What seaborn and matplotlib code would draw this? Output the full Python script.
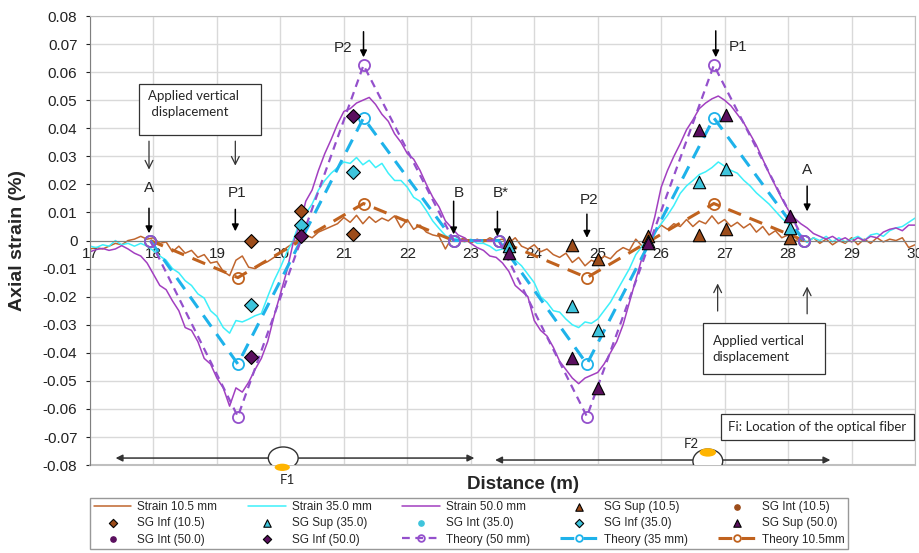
import numpy as np
import pandas as pd
import seaborn as sns
import matplotlib.pyplot as plt
from matplotlib.patches import Rectangle, Ellipse
from matplotlib.ticker import FuncFormatter, MultipleLocator

# distance grid of the fibre readings (m)
distance = np.linspace(17, 30, 131)

# measured axial strain (%) along the fibre, read every 0.1 m
strain_105 = [
    -0.0030, -0.0025, -0.0030, -0.0020, -0.0010, -0.0015, 0.0000, 0.0005, 0.0015, 0.0005,
    0.0010, -0.0010, -0.0005, -0.0040, -0.0020, -0.0045, -0.0035, -0.0060, -0.0050, -0.0080,
    -0.0075, -0.0110, -0.0125, -0.0070, -0.0055, -0.0095, -0.0100, -0.0085, -0.0075, -0.0060,
    -0.0045, -0.0025, -0.0010, 0.0010, 0.0020, 0.0010, 0.0030, 0.0040, 0.0050, 0.0060,
    0.0082, 0.0065, 0.0090, 0.0060, 0.0085, 0.0065, 0.0080, 0.0070, 0.0088, 0.0046,
    0.0075, 0.0040, 0.0055, 0.0030, 0.0020, 0.0015, -0.0030, 0.0010, 0.0000, 0.0010,
    -0.0010, 0.0005, -0.0005, 0.0010, 0.0000, 0.0005, -0.0010, 0.0010, -0.0020, -0.0030,
    -0.0015, -0.0040, -0.0030, -0.0050, -0.0060, -0.0045, -0.0078, -0.0060, -0.0090, -0.0070,
    -0.0080, -0.0055, -0.0065, -0.0040, -0.0025, -0.0035, 0.0005, -0.0020, 0.0000, 0.0030,
    0.0055, 0.0040, 0.0060, 0.0050, 0.0075, 0.0050, 0.0070, 0.0060, 0.0088, 0.0060,
    0.0075, 0.0050, 0.0065, 0.0045, 0.0060, 0.0030, 0.0050, 0.0020, 0.0035, 0.0010,
    0.0020, 0.0000, 0.0005, -0.0005, 0.0010, -0.0010, 0.0005, -0.0015, 0.0000, -0.0010,
    0.0010, -0.0015, 0.0005, -0.0010, 0.0010, -0.0005, 0.0005, 0.0000, 0.0010, -0.0025,
    -0.0015,
]
strain_350 = [
    -0.0020, -0.0025, -0.0015, -0.0020, 0.0000, -0.0015, -0.0010, -0.0020, -0.0010, -0.0020,
    -0.0036, -0.0055, -0.0070, -0.0100, -0.0115, -0.0143, -0.0160, -0.0190, -0.0205, -0.0250,
    -0.0270, -0.0310, -0.0330, -0.0285, -0.0290, -0.0280, -0.0268, -0.0260, -0.0200, -0.0143,
    -0.0096, -0.0043, 0.0000, 0.0064, 0.0096, 0.0130, 0.0180, 0.0214, 0.0240, 0.0260,
    0.0280, 0.0275, 0.0296, 0.0270, 0.0286, 0.0260, 0.0275, 0.0240, 0.0214, 0.0214,
    0.0190, 0.0154, 0.0140, 0.0107, 0.0070, 0.0043, 0.0018, 0.0005, 0.0010, -0.0005,
    0.0005, -0.0010, -0.0010, -0.0020, -0.0036, -0.0030, -0.0025, -0.0070, -0.0090, -0.0120,
    -0.0150, -0.0200, -0.0220, -0.0250, -0.0255, -0.0280, -0.0300, -0.0310, -0.0290, -0.0295,
    -0.0280, -0.0250, -0.0220, -0.0180, -0.0140, -0.0100, -0.0050, -0.0020, 0.0005, 0.0030,
    0.0060, 0.0090, 0.0125, 0.0168, 0.0195, 0.0214, 0.0235, 0.0245, 0.0260, 0.0280,
    0.0265, 0.0250, 0.0240, 0.0215, 0.0195, 0.0170, 0.0150, 0.0130, 0.0105, 0.0080,
    0.0060, 0.0035, 0.0015, -0.0007, 0.0010, 0.0000, 0.0015, -0.0005, 0.0010, -0.0005,
    0.0005, 0.0015, 0.0000, 0.0020, 0.0025, 0.0015, 0.0035, 0.0045, 0.0050, 0.0065,
    0.0080,
]
strain_500 = [
    -0.0040, -0.0032, -0.0028, -0.0035, -0.0030, -0.0018, -0.0030, -0.0045, -0.0055, -0.0080,
    -0.0120, -0.0160, -0.0175, -0.0215, -0.0250, -0.0310, -0.0320, -0.0360, -0.0420, -0.0440,
    -0.0490, -0.0525, -0.0590, -0.0525, -0.0540, -0.0505, -0.0460, -0.0420, -0.0360, -0.0270,
    -0.0190, -0.0110, -0.0010, 0.0050, 0.0140, 0.0180, 0.0250, 0.0310, 0.0360, 0.0415,
    0.0460, 0.0470, 0.0490, 0.0500, 0.0510, 0.0485, 0.0450, 0.0425, 0.0380, 0.0350,
    0.0310, 0.0290, 0.0250, 0.0200, 0.0155, 0.0120, 0.0070, 0.0045, 0.0020, 0.0010,
    -0.0010, -0.0025, -0.0035, -0.0055, -0.0060, -0.0080, -0.0110, -0.0160, -0.0180, -0.0200,
    -0.0285, -0.0320, -0.0340, -0.0380, -0.0430, -0.0460, -0.0490, -0.0510, -0.0490, -0.0480,
    -0.0470, -0.0440, -0.0400, -0.0360, -0.0300, -0.0220, -0.0140, -0.0060, 0.0000, 0.0085,
    0.0190, 0.0250, 0.0300, 0.0345, 0.0395, 0.0430, 0.0470, 0.0490, 0.0505, 0.0515,
    0.0500, 0.0480, 0.0450, 0.0420, 0.0380, 0.0340, 0.0290, 0.0240, 0.0195, 0.0150,
    0.0110, 0.0080, 0.0060, 0.0045, 0.0025, 0.0015, 0.0005, 0.0015, 0.0000, 0.0010,
    -0.0005, 0.0010, 0.0000, 0.0015, 0.0010, 0.0030, 0.0040, 0.0045, 0.0035, 0.0055,
    0.0055,
]

# theoretical strain at the key points A, P1, P2, B, B*, P2, P1, A
theory_x = [17.95, 19.33, 21.31, 22.73, 23.44, 24.83, 26.83, 28.25]
theory_50 = [0, -0.0627, 0.0625, 0, 0, -0.0627, 0.0625, 0]
theory_35 = [0, -0.044, 0.0437, 0, 0, -0.044, 0.0437, 0]
theory_105 = [0, -0.0132, 0.0132, 0, 0, -0.0132, 0.0132, 0]

# strain gauges
sg_inf_x = [19.53, 20.33, 21.14]
sg_inf_105 = [0.0, 0.0104, 0.0025]
sg_inf_35 = [-0.0229, 0.0054, 0.0245]
sg_inf_50 = [-0.0414, 0.0018, 0.0443]

sg_sup_x = [23.61, 24.60, 25.00, 25.80, 26.60, 27.02, 28.03]
sg_sup_105 = [-0.0005, -0.0015, -0.0065, 0.0018, 0.0021, 0.0040, 0.0008]
sg_sup_35 = [-0.0020, -0.0232, -0.0318, 0.0000, 0.0208, 0.0256, 0.0044]
sg_sup_50 = [-0.0043, -0.0418, -0.0525, -0.0010, 0.0395, 0.0449, 0.0086]

sg_int_x = []
sg_int_105 = []
sg_int_35 = []
sg_int_50 = []

c_br, c_cy, c_pu = '#C0662E', '#3DF0FA', '#A23FC0'
c_th_br, c_th_cy, c_th_pu = '#C0621E', '#1EB2EA', '#9450CC'
c_sg_br, c_sg_cy, c_sg_pu = '#9C4C1A', '#3EC4DC', '#5A0F5E'

sns.set_style("white")
plt.rcParams['font.family'] = ['Liberation Sans', 'DejaVu Sans']
plt.rcParams['axes.unicode_minus'] = False

fig = plt.figure(figsize=(9.2, 5.53), dpi=100)
ax = fig.add_axes([0.0978, 0.159, 0.8968, 0.812])

df = pd.DataFrame({'distance': distance, 's105': strain_105, 's350': strain_350, 's500': strain_500})
sns.lineplot(data=df, x='distance', y='s105', color=c_br, lw=1.1, label='Strain 10.5 mm', ax=ax)
sns.lineplot(data=df, x='distance', y='s350', color=c_cy, lw=1.1, label='Strain 35.0 mm', ax=ax)
sns.lineplot(data=df, x='distance', y='s500', color=c_pu, lw=1.1, label='Strain 50.0 mm', ax=ax)

th_kw = dict(marker='o', markersize=8, markerfacecolor='none', markeredgewidth=1.3, zorder=4, ax=ax)
sns.lineplot(x=theory_x, y=theory_105, color=c_th_br, lw=2.2, linestyle=(0, (4.5, 3)),
             markeredgecolor=c_th_br, label='Theory 10.5mm', **th_kw)
sns.lineplot(x=theory_x, y=theory_35, color=c_th_cy, lw=2.2, linestyle=(0, (4.5, 3)),
             markeredgecolor=c_th_cy, label='Theory (35 mm)', **th_kw)
sns.lineplot(x=theory_x, y=theory_50, color=c_th_pu, lw=1.6, linestyle=(0, (3.5, 2.5)),
             markeredgecolor=c_th_pu, label='Theory (50 mm)', **th_kw)

sg_kw = dict(edgecolor='black', linewidth=0.8, zorder=6, ax=ax)
sns.scatterplot(x=sg_sup_x, y=sg_sup_105, marker='^', s=80, color=c_sg_br, label='SG Sup (10.5)', **sg_kw)
sns.scatterplot(x=sg_sup_x, y=sg_sup_35, marker='^', s=80, color=c_sg_cy, label='SG Sup (35.0)', **sg_kw)
sns.scatterplot(x=sg_sup_x, y=sg_sup_50, marker='^', s=80, color=c_sg_pu, label='SG Sup (50.0)', **sg_kw)
sns.scatterplot(x=sg_inf_x, y=sg_inf_105, marker='D', s=50, color=c_sg_br, label='SG Inf (10.5)', **sg_kw)
sns.scatterplot(x=sg_inf_x, y=sg_inf_35, marker='D', s=50, color=c_sg_cy, label='SG Inf (35.0)', **sg_kw)
sns.scatterplot(x=sg_inf_x, y=sg_inf_50, marker='D', s=50, color=c_sg_pu, label='SG Inf (50.0)', **sg_kw)
ax.scatter(sg_int_x, sg_int_105, marker='o', s=40, color=c_sg_br, label='SG Int (10.5)')
ax.scatter(sg_int_x, sg_int_35, marker='o', s=40, color=c_sg_cy, label='SG Int (35.0)')
ax.scatter(sg_int_x, sg_int_50, marker='o', s=40, color=c_sg_pu, label='SG Int (50.0)')

# axes, grid, frame
ax.set_xlim(17, 30)
ax.set_ylim(-0.08, 0.08)
ax.xaxis.set_major_locator(MultipleLocator(1))
ax.yaxis.set_major_locator(MultipleLocator(0.01))
ax.yaxis.set_major_formatter(FuncFormatter(lambda v, p: '0' if abs(v) < 1e-9 else f'{v:.2f}'))
ax.grid(True, color='#D9D9D9', lw=1)
ax.set_axisbelow(True)
ax.spines['bottom'].set_position(('data', 0))
ax.spines['bottom'].set_color('#7F7F7F')
ax.spines['left'].set_color('#7F7F7F')
ax.spines['top'].set_color('#BFBFBF')
ax.spines['right'].set_color('#BFBFBF')
ax.axhline(-0.08, color='#BFBFBF', lw=1.5, clip_on=False)
ax.tick_params(axis='x', length=0, pad=5, labelsize=11, colors='#222222')
ax.tick_params(axis='y', length=3, pad=6, labelsize=11, colors='#222222', left=True)
ax.set_xlabel('')
ax.set_ylabel('Axial strain (%)', fontsize=14, fontweight='bold', labelpad=12)
fig.text(0.568, 0.123, 'Distance (m)', ha='center', va='center', fontsize=13.5, fontweight='bold')

# point labels with black arrows
arrow_kw = dict(arrowstyle='-|>', color='black', lw=1.1, mutation_scale=10)
for lab, tx, ty, ax_x, y0, y1 in [
    ('A', 17.93, 0.0189, 17.93, 0.0125, 0.0016),
    ('P1', 19.32, 0.0171, 19.29, 0.0121, 0.0023),
    ('P2', 20.98, 0.0686, 21.31, 0.0754, 0.0643),
    ('B', 22.81, 0.0168, 22.73, 0.0150, 0.0012),
    ('B*', 23.48, 0.0168, 23.42, 0.0114, 0.0005),
    ('P2', 24.86, 0.0146, 24.83, 0.0104, 0.0000),
    ('P1', 27.21, 0.0689, 26.86, 0.0757, 0.0643),
    ('A', 28.30, 0.0250, 28.30, 0.0204, 0.0094),
]:
    ax.text(tx, ty, lab, ha='center', va='center', fontsize=11, zorder=8)
    ax.annotate('', xy=(ax_x, y1), xytext=(ax_x, y0), arrowprops=arrow_kw, zorder=8)

# applied displacement boxes with open arrows
open_kw = dict(arrowstyle='->', color='#333333', lw=0.9, mutation_scale=14)
ax.add_patch(Rectangle((17.77, 0.0375), 1.93, 0.0182, facecolor='white', edgecolor='#333333', lw=0.9, zorder=7))
ax.text(17.92, 0.0485, 'Applied vertical\n displacement', ha='left', va='center', fontsize=9.5,
        family=['Lato', 'DejaVu Sans'], linespacing=1.4, zorder=8)
ax.annotate('', xy=(17.93, 0.0243), xytext=(17.93, 0.0364), arrowprops=open_kw)
ax.annotate('', xy=(19.29, 0.0257), xytext=(19.29, 0.0364), arrowprops=open_kw)

ax.add_patch(Rectangle((26.66, -0.0475), 1.92, 0.0182, facecolor='white', edgecolor='#333333', lw=0.9, zorder=7))
ax.text(26.81, -0.0385, 'Applied vertical\ndisplacement', ha='left', va='center', fontsize=9.5,
        family=['Lato', 'DejaVu Sans'], linespacing=1.4, zorder=8)
ax.annotate('', xy=(26.89, -0.0143), xytext=(26.89, -0.0261), arrowprops=open_kw)
ax.annotate('', xy=(28.30, -0.0154), xytext=(28.30, -0.0271), arrowprops=open_kw)

ax.add_patch(Rectangle((26.94, -0.0711), 3.04, 0.0093, facecolor='white', edgecolor='#333333', lw=0.9, zorder=7))
ax.text(28.46, -0.0665, 'Fi: Location of the optical fiber', ha='center', va='center', fontsize=9.5,
        family=['Lato', 'DejaVu Sans'], zorder=8)

# fibre location sketches
dbl_kw = dict(arrowstyle='<|-|>', color='#333333', lw=1.1, mutation_scale=10)
ax.annotate('', xy=(17.36, -0.0775), xytext=(23.10, -0.0775), arrowprops=dbl_kw)
ax.add_patch(Ellipse((20.045, -0.0775), 0.47, 0.0079, facecolor='white', edgecolor='#333333', lw=1, zorder=7))
ax.add_patch(Ellipse((20.03, -0.0808), 0.24, 0.0026, facecolor='#FFB400', edgecolor='none', zorder=8,
                     clip_on=False))
ax.text(20.11, -0.0852, 'F1', ha='center', va='center', fontsize=9.5, family=['Lato', 'DejaVu Sans'],
        clip_on=False)

ax.annotate('', xy=(23.34, -0.0782), xytext=(28.71, -0.0782), arrowprops=dbl_kw)
ax.add_patch(Ellipse((26.735, -0.0786), 0.47, 0.0086, facecolor='white', edgecolor='#333333', lw=1, zorder=7))
ax.add_patch(Ellipse((26.735, -0.0755), 0.26, 0.0030, facecolor='#FFB400', edgecolor='none', zorder=8))
ax.text(26.47, -0.0724, 'F2', ha='center', va='center', fontsize=9.5, family=['Lato', 'DejaVu Sans'], zorder=8)

# legend, filled row by row
handles, labels = ax.get_legend_handles_labels()
by_label = dict(zip(labels, handles))
ax.get_legend().remove()
desired = ['Strain 10.5 mm', 'Strain 35.0 mm', 'Strain 50.0 mm', 'SG Sup (10.5)', 'SG Int (10.5)',
           'SG Inf (10.5)', 'SG Sup (35.0)', 'SG Int (35.0)', 'SG Inf (35.0)', 'SG Sup (50.0)',
           'SG Int (50.0)', 'SG Inf (50.0)', 'Theory (50 mm)', 'Theory (35 mm)', 'Theory 10.5mm']
order = [desired[r * 5 + c] for c in range(5) for r in range(3)]
leg = fig.legend([by_label[k] for k in order], order, ncol=5, loc='lower left',
                 bbox_to_anchor=(0.098, 0.007, 0.824, 0.094), mode='expand',
                 frameon=True, fancybox=False, edgecolor='#7F7F7F',
                 handlelength=3.2, handletextpad=0.5, borderaxespad=0, markerscale=0.6,
                 labelspacing=0.35, borderpad=0.3,
                 prop={'family': ['Liberation Sans Narrow', 'Liberation Sans'], 'size': 8.5})
leg.get_frame().set_linewidth(1.0)

fig.savefig('out.png', dpi=100)
